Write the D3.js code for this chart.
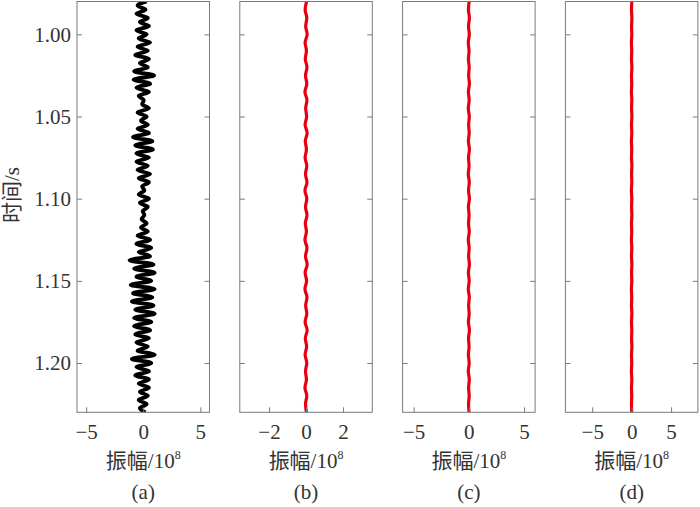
<!DOCTYPE html>
<html>
<head>
  <meta charset="utf-8">
  <title>trace panels</title>
  <style>
    body { margin: 0; background: #fff; }
    text { font-family: "Liberation Serif", "Noto Sans CJK SC", serif; fill: #333; }
  </style>
</head>
<body>
<script src="https://d3js.org/d3.v7.min.js"></script>
<svg id="chart" width="700" height="507"></svg>

<script>
    // sample grid
    var tStartA = 0.98, dtA = 0.0025;
    var tStartB = 0.98, dtB = 0.005;

    // (a) original trace, amplitude / 1e8
    var ampA = [0.3, -0.5, 0.2, -0.6, 0.4, -0.3, 0.5, -0.6, 0.3,
                -0.4, 0.6, -0.5, 0.4, -0.7, 0.5, -0.3, 0.4,
                -0.8, 0.95, -0.85, 0.6,
                -0.6, 0.5, -0.4, 0.05, -0.1, 0.5, -0.5, 0.3, -0.2, 0.4, -0.5, 0.5,
                -0.9, 0.8, -0.7, 0.85, -0.6, 0.5,
                -0.6, 0.4, -0.5, 0.6, -0.4, 0.5, -0.1, 0.1, -0.4, 0.5, -0.3, 0.4, -0.05, 0.1, -0.15, 0.3, -0.2, 0.4,
                -0.5, 0.6, -0.6, 0.7, -0.4, 0.6,
                -1.2, 0.9, -0.8, 1.0, -0.6, 0.7, -1.1, 1.0, -0.9, 0.8, -1.0, 0.9, -0.7, 1.0, -0.8, 0.7,
                -0.8, 0.6, -0.7, 0.5, -0.6, 0.4, -0.5,
                1.0, -1.0, 0.7,
                -0.6, 0.5, -0.7, 0.5, -0.4, 0.5,
                -0.3, 0.4, -0.4, 0.3, -0.3, 0.2];

    // (b)(c)(d) residual traces
    var ampB = [0.03, -0.05, 0.04, -0.02, 0.06, -0.05, 0.02, -0.04, 0.05, -0.03,
                0.04, -0.06, 0.05, -0.02, 0.03, -0.05, 0.06, -0.04, 0.02, -0.05,
                0.04, -0.03, 0.05, -0.06, 0.04, -0.03, 0.05, -0.04, 0.02, -0.06,
                0.05, -0.03, 0.06, -0.05, 0.03, -0.06, 0.05, -0.02, 0.04, -0.05,
                0.06, -0.04, 0.03, -0.05, 0.04, -0.03, 0.02, -0.06, 0.04, -0.03, 0.02];
    var ampC = [0.03, -0.04, 0.05, -0.03, 0.04, -0.05, 0.02, -0.04, 0.03, -0.02,
                0.05, -0.04, 0.03, -0.05, 0.04, -0.02, 0.03, -0.04, 0.05, -0.03,
                0.02, -0.05, 0.04, -0.03, 0.05, -0.04, 0.02, -0.03, 0.04, -0.05,
                0.03, -0.02, 0.05, -0.04, 0.03, -0.05, 0.04, -0.02, 0.03, -0.04,
                0.05, -0.03, 0.02, -0.04, 0.03, -0.05, 0.04, -0.02, 0.03, -0.03, 0.02];
    var ampD = [0.02, -0.02, 0.03, -0.01, 0.02, -0.03, 0.01, -0.02, 0.03, -0.02,
                0.01, -0.03, 0.02, -0.01, 0.03, -0.02, 0.02, -0.03, 0.01, -0.02,
                0.03, -0.01, 0.02, -0.03, 0.02, -0.01, 0.03, -0.02, 0.01, -0.03,
                0.02, -0.02, 0.03, -0.01, 0.02, -0.03, 0.01, -0.02, 0.03, -0.02,
                0.02, -0.01, 0.03, -0.02, 0.01, -0.03, 0.02, -0.02, 0.01, -0.02, 0.01];

    var timeLimits = [0.98, 1.23];
    var yTicks = [1.00, 1.05, 1.10, 1.15, 1.20];
    var xLimits = [[-5.8, 5.8], [-3.58, 3.58], [-6, 6], [-8.4, 8.4]];
    var xTicks = [[-5, 0, 5], [-2, 0, 2], [-5, 0, 5], [-5, 0, 5]];
    var panelNames = ["(a)", "(b)", "(c)", "(d)"];
    var yLabel = "时间/s";
    var xLabel = "振幅/10";
    var xLabelExp = "8";

    var svg = d3.select("#chart");
    var plotTop = 1.5, plotBottom = 412.3, panelW = 132.5, step = 162.8, left0 = 77;

    var y = d3.scaleLinear().domain(timeLimits).range([plotTop, plotBottom]);

    var traces = [
        {amp: ampA, t0: tStartA, dt: dtA, color: "#000", width: 3.8},
        {amp: ampB, t0: tStartB, dt: dtB, color: "#e8000f", width: 3.2},
        {amp: ampC, t0: tStartB, dt: dtB, color: "#e8000f", width: 3.2},
        {amp: ampD, t0: tStartB, dt: dtB, color: "#e8000f", width: 3.2}
    ];

    traces.forEach(function(tr, k) {
        var x0 = left0 + k * step;
        var x = d3.scaleLinear().domain(xLimits[k]).range([x0, x0 + panelW]);
        var g = svg.append("g");

        svg.append("clipPath").attr("id", "clip" + k)
            .append("rect").attr("x", x0).attr("y", plotTop)
            .attr("width", panelW).attr("height", plotBottom - plotTop);

        var pts = tr.amp.map(function(a, i) { return [a, tr.t0 + i * tr.dt]; });
        var line = d3.line()
            .x(function(d) { return x(d[0]); })
            .y(function(d) { return y(d[1]); })
            .curve(d3.curveMonotoneY);

        g.append("path")
            .datum(pts)
            .attr("clip-path", "url(#clip" + k + ")")
            .attr("fill", "none")
            .attr("stroke", tr.color)
            .attr("stroke-width", tr.width)
            .attr("stroke-linejoin", "round")
            .attr("d", line);

        // left axis (labels only on first panel)
        var yl = g.append("g").attr("transform", "translate(" + x0 + ",0)")
            .call(d3.axisLeft(y).tickValues(yTicks).tickSize(-5).tickPadding(6)
                .tickFormat(k === 0 ? d3.format(".2f") : ""));
        // right ticks
        var yr = g.append("g").attr("transform", "translate(" + (x0 + panelW) + ",0)")
            .call(d3.axisRight(y).tickValues(yTicks).tickSize(-5).tickFormat(""));
        // bottom
        var xb = g.append("g").attr("transform", "translate(0," + plotBottom + ")")
            .call(d3.axisBottom(x).tickValues(xTicks[k]).tickSize(-5).tickPadding(12)
                .tickFormat(d3.format("d")));

        [yl, yr, xb].forEach(function(ax) {
            ax.select(".domain").remove();
            ax.selectAll("line").attr("stroke", "#7a7a7a");
            ax.selectAll("text").attr("font-size", 21)
                .attr("font-family", "Liberation Serif").attr("fill", "#333");
        });

        g.append("rect")
            .attr("x", x0).attr("y", plotTop)
            .attr("width", panelW).attr("height", plotBottom - plotTop)
            .attr("fill", "none").attr("stroke", "#7a7a7a").attr("stroke-width", 1);

        var xl = g.append("text")
            .attr("x", x0 + panelW / 2).attr("y", 468)
            .attr("text-anchor", "middle").attr("font-size", 21)
            .text(xLabel);
        xl.append("tspan").attr("font-size", 12).attr("dy", -9).text(xLabelExp);

        g.append("text")
            .attr("x", x0 + panelW / 2).attr("y", 499)
            .attr("text-anchor", "middle").attr("font-size", 21)
            .text(panelNames[k]);
    });

    svg.append("text")
        .attr("transform", "translate(19,195) rotate(-90)")
        .attr("text-anchor", "middle").attr("font-size", 21)
        .text(yLabel);
</script>
</body>
</html>
